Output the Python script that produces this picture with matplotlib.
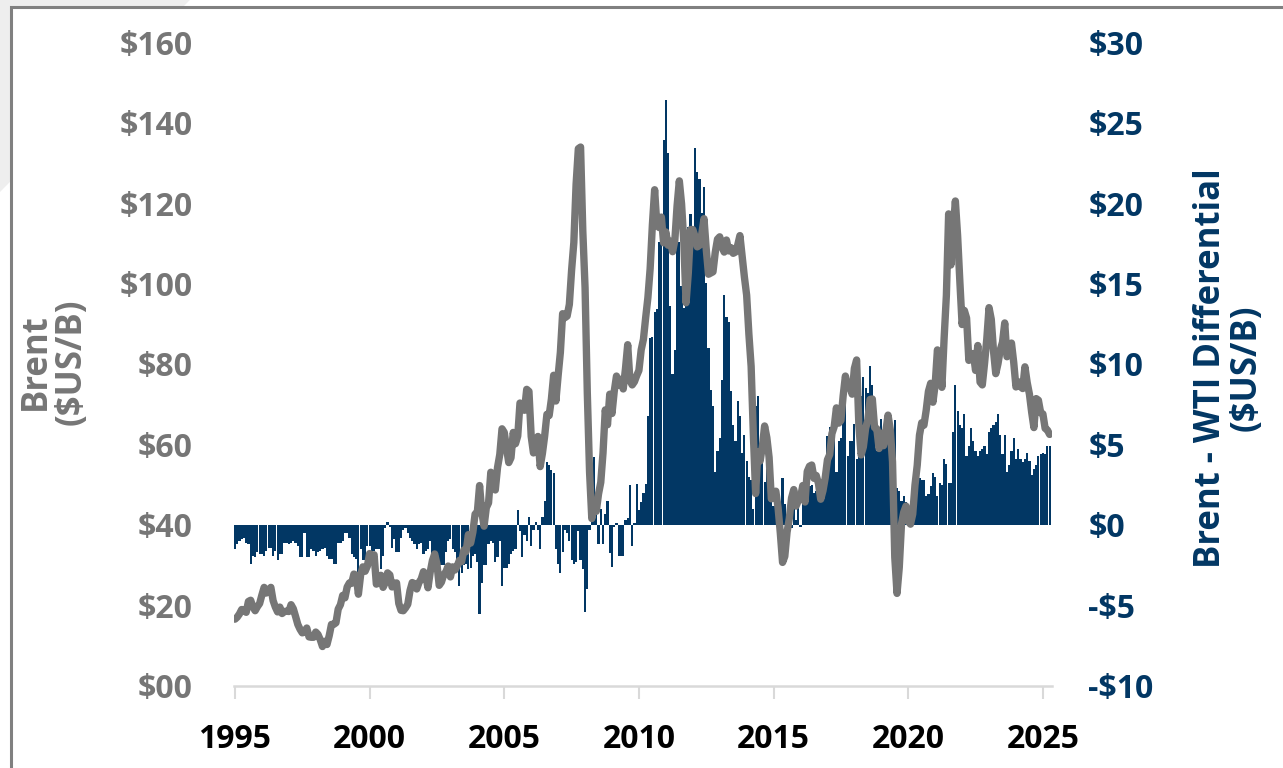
#!/usr/bin/env python3

# Brent price vs Brent-WTI differential

import matplotlib as mpl
mpl.use("Agg")

import matplotlib.pyplot as plt             # noqa
import numpy as np                          # noqa
from matplotlib.patches import Polygon, Rectangle  # noqa

# monthly series, first point sits on the 1995 tick
brent = [
  16.6, 17.1, 17.9, 19.0,
  18.9, 18.3, 21.0, 21.3, 19.6, 18.7, 19.7, 20.5, 22.6, 24.5, 23.1, 23.8,
  24.5, 21.2, 19.6, 18.4, 19.6, 18.0, 18.5, 18.6, 18.5, 20.2, 19.2, 17.3,
  15.3, 14.1, 13.2, 13.4, 14.4, 12.2, 12.1, 12.1, 13.4, 12.8, 11.5, 9.8,
  11.1, 10.3, 12.5, 15.3, 15.3, 15.7, 19.1, 20.2, 22.5, 21.9, 24.6, 25.6,
  25.5, 27.8, 27.5, 22.8, 27.6, 29.6, 28.5, 29.8, 32.9, 31.1, 32.6, 25.3,
  25.6, 27.5, 24.5, 25.7, 28.1, 27.6, 24.6, 25.5, 25.6, 20.5, 18.8, 18.7,
  19.4, 20.3, 23.7, 25.7, 25.4, 24.1, 25.7, 26.6, 28.4, 27.5, 24.4, 28.3,
  31.2, 32.8, 30.3, 25.0, 25.8, 27.6, 28.4, 29.8, 27.1, 29.6, 28.8, 29.8,
  31.2, 30.9, 33.8, 33.4, 37.6, 35.5, 38.2, 42.7, 43.2, 49.8, 43.1, 39.7,
  44.3, 45.5, 53.1, 51.9, 48.7, 54.3, 57.5, 63.9, 63.0, 59.1, 55.5, 56.7,
  63.0, 60.2, 62.1, 70.3, 69.8, 68.5, 73.7, 73.2, 62.0, 57.9, 58.8, 62.0,
  54.5, 57.8, 62.1, 67.5, 67.2, 71.3, 77.2, 70.8, 77.1, 82.9, 92.5, 91.5,
  91.9, 94.8, 103.3, 110.2, 124.6, 133.5, 133.9, 113.0, 99.0, 72.8, 53.2, 41.6,
  44.9, 43.4, 47.7, 50.6, 57.9, 68.6, 64.9, 72.5, 67.7, 73.2, 77.0, 74.7,
  76.2, 73.8, 78.8, 84.8, 75.9, 74.8, 75.6, 77.1, 78.4, 83.5, 86.1, 91.5,
  96.5, 103.7, 114.6, 123.3, 114.5, 113.9, 116.5, 110.1, 112.8, 109.5, 110.5, 107.9,
  110.7, 119.3, 125.5, 119.8, 110.3, 95.2, 102.6, 113.4, 113.4, 111.7, 109.1, 109.5,
  112.3, 116.1, 108.5, 102.3, 102.6, 102.9, 107.7, 111.0, 111.6, 109.1, 107.8, 110.8,
  108.1, 108.9, 107.5, 107.8, 109.5, 111.9, 106.8, 101.6, 97.1, 87.4, 79.4, 62.3,
  47.8, 58.1, 55.9, 59.5, 64.6, 61.7, 56.8, 46.5, 47.6, 48.4, 44.3, 38.0,
  30.7, 32.2, 38.2, 41.6, 46.7, 48.8, 44.7, 46.0, 46.8, 49.8, 45.7, 53.3,
  54.6, 54.9, 51.6, 52.3, 50.3, 46.4, 48.5, 51.7, 56.2, 57.5, 62.7, 64.4,
  69.1, 65.3, 66.0, 72.1, 77.0, 74.4, 74.3, 72.5, 78.9, 81.0, 64.8, 57.4,
  59.4, 64.0, 66.1, 71.2, 71.3, 64.2, 63.9, 59.0, 62.8, 59.7, 63.2, 67.3,
  63.7, 55.7, 32.0, 23.0, 29.4, 40.3, 43.2, 44.7, 40.9, 40.2, 42.7, 49.9,
  54.8, 62.3, 65.4, 64.8, 68.5, 73.2, 75.2, 70.5, 74.9, 83.5, 81.1, 74.2,
  86.5, 97.1, 117.3, 104.6, 113.3, 120.5, 111.9, 100.5, 89.8, 93.3, 91.4, 80.9,
  82.5, 82.6, 78.4, 84.6, 75.5, 74.8, 80.1, 86.2, 94.0, 91.1, 83.2, 77.6,
  80.1, 83.5, 85.4, 90.2, 81.8, 82.6, 85.2, 80.4, 74.3, 75.6, 74.4, 73.9,
  79.3, 75.4, 72.5, 68.0, 64.2, 71.4, 71.0, 67.9, 67.6, 64.0, 63.6, 62.5,
]

diff = [
  -1.5, -1.2, -1.0, -0.9, -0.8, -1.1, -1.2, -2.4, -1.9, -2.0, -1.7, -1.8,
  -1.8, -1.9, -1.6, -1.4, -1.4, -1.9, -1.6, -2.2, -1.8, -1.8, -1.1, -1.1,
  -1.2, -1.1, -1.0, -1.1, -1.3, -2.0, -2.0, -0.5, -2.0, -2.0, -1.5, -1.6,
  -1.9, -1.7, -1.6, -1.5, -1.4, -1.9, -2.1, -2.1, -2.4, -2.4, -1.1, -1.1,
  -1.0, -0.5, -0.5, -0.8, -1.8, -2.0, -2.1, -2.9, -1.5, -2.2, -2.2, -1.3,
  -1.3, -1.6, -1.6, -1.5, -1.5, -2.75, -1.9, -0.2, 0.2, -0.1, -1.4, -0.9,
  -1.7, -1.7, -0.8, -0.3, -0.2, -0.5, -0.8, -1.0, -1.2, -1.5, -1.2, -1.1,
  -1.8, -1.6, -1.5, -1.0, -2.1, -1.9, -1.9, -2.3, -2.5, -2.5, -1.7, -1.0,
  -0.9, -1.5, -1.7, -2.75, -3.8, -3.0, -2.5, -2.4, -2.75, -2.7, -1.9, -1.8,
  -2.3, -5.5, -3.6, -2.5, -2.5, -1.2, -1.0, -1.1, -2.3, -2.0, -1.0, -3.8,
  -2.7, -2.7, -2.4, -1.8, -1.6, -1.5, 0.9, -0.4, -2.0, -0.6, -1.0, 0.5,
  -1.3, -0.3, 0.2, -0.3, -1.5, 0.5, 1.5, 3.9, 3.7, 3.4, 3.2, -1.5,
  -2.4, -3.0, -1.7, -0.3, -0.5, -1.0, -2.2, -2.4, -2.3, -0.4, -2.2, -2.75,
  -5.4, -4.0, -0.3, 1.4, 4.2, 1.1, -1.2, 1.0, -1.2, 0.7, 1.5, -1.75,
  -2.6, -0.1, 0.1, -1.9, -1.9, -1.9, 0.3, 0.45, 2.5, -1.3, 0.1, 2.56,
  0.9, 1.4, 2.0, 2.56, 6.8, 11.6, 11.7, 13.2, 13.4, 17.6, 17.6, 23.9,
  26.4, 23.1, 13.6, 9.4, 10.9, 17.6, 17.6, 14.85, 13.5, 17.5, 18.5, 19.3,
  18.5, 23.4, 21.9, 21.5, 19.4, 21.0, 15.0, 11.0, 8.4, 7.4, 3.3, 4.6,
  5.4, 9.0, 14.3, 12.9, 12.6, 8.3, 6.2, 5.2, 7.7, 6.8, 4.5, 5.6,
  4.0, 3.0, 2.8, 1.0, 7.4, 8.0, 3.8, 4.5, 2.7, 3.5, 2.0, 1.6,
  1.2, 1.3, 1.3, 1.3, 2.9, 1.3, 0.6, -0.2, -0.2, 1.0, 0.3, 1.1,
  -0.1, 1.4, 1.9, 2.2, 2.4, 2.5, 2.0, 2.1, 2.1, 2.5, 2.8, 2.8,
  5.5, 6.1, 5.5, 5.5, 3.3, 5.2, 5.4, 6.8, 7.8, 4.3, 5.2, 5.2,
  6.3, 4.1, 5.5, 8.0, 9.2, 8.5, 8.2, 9.85, 8.7, 6.5, 4.6, 5.9,
  6.6, 5.9, 5.1, 5.1, 3.9, 3.6, 6.5, 2.3, 2.1, 1.5, 1.8, 1.4,
  1.0, 1.0, 1.0, 3.5, 3.1, 2.9, 2.8, 2.8, 1.8, 1.9, 2.4, 3.2,
  3.0, 1.8, 2.6, 2.5, 4.1, 3.8, 2.6, 2.6, 5.8, 8.7, 7.1, 6.2,
  6.0, 6.9, 4.3, 4.9, 6.0, 5.2, 4.6, 4.3, 4.6, 4.7, 4.9, 4.4,
  5.8, 6.0, 6.2, 6.4, 6.9, 5.6, 4.4, 5.6, 3.3, 3.7, 4.6, 5.4,
  4.1, 4.7, 4.1, 3.9, 4.1, 4.5, 4.0, 3.1, 3.5, 3.7, 4.3, 4.4,
  4.5, 4.4, 4.9, 4.9,
]

year_ticks = [1995, 2000, 2005, 2010, 2015, 2020, 2025]
left_ticks = [0, 20, 40, 60, 80, 100, 120, 140, 160]
left_labels = ['$00', '$20', '$40', '$60', '$80', '$100', '$120', '$140', '$160']
right_ticks = [-10, -5, 0, 5, 10, 15, 20, 25, 30]
right_labels = ['-$10', '-$5', '$0', '$5', '$10', '$15', '$20', '$25', '$30']

GREY = '#767676'
NAVY = '#023764'
FONT = 'Open Sans'

t = 1995 + np.arange(len(brent)) / 12.0

fig = plt.figure(figsize=(12.83, 7.68), dpi=100)

# slide background corner + frame (behind the axes)
fig.patches.append(Polygon([[0, 1], [0.148, 1], [0, 1 - 0.25]], closed=True,
                           transform=fig.transFigure, facecolor='#EEEEEE', edgecolor='none', zorder=-2))
fig.patches.append(Rectangle((0.0085, -0.1), 1.2, 1.091, transform=fig.transFigure,
                             facecolor='white', edgecolor='#808080', linewidth=2.2, zorder=-1))

ax = fig.add_axes([0.1825, 0.1068, 0.6377, 0.8385])
ar = ax.twinx()

ar.bar(t, diff, width=0.97 / 12, color=NAVY, linewidth=0, zorder=2)
ax.plot(t, brent, color=GREY, lw=5.3, solid_joinstyle='round', solid_capstyle='round', zorder=3)

ax.set_zorder(ar.get_zorder() + 1)
ax.patch.set_visible(False)
ar.patch.set_visible(False)

ax.set_xlim(1994.97, 2025.35)
ax.set_ylim(0, 160)
ar.set_ylim(-10, 30)

for a in (ax, ar):
  for s in a.spines.values():
    s.set_visible(False)
ax.spines['bottom'].set_visible(True)
ax.spines['bottom'].set_color('#D9D9D9')
ax.spines['bottom'].set_linewidth(1.8)

ax.set_xticks(year_ticks)
ax.set_xticklabels([str(y) for y in year_ticks], fontname=FONT, fontweight='bold', fontsize=23, color='black')
ax.tick_params(axis='x', length=9, width=1.5, color='#D9D9D9', pad=18)

ax.set_yticks(left_ticks)
ax.set_yticklabels(left_labels, fontname=FONT, fontweight='bold', fontsize=23, color=GREY)
ax.tick_params(axis='y', length=0, pad=30)

ar.set_yticks(right_ticks)
ar.set_yticklabels(right_labels, fontname=FONT, fontweight='bold', fontsize=23, color=NAVY)
ar.tick_params(axis='y', length=0, pad=26)

fig.text(0.042, 1 - 362 / 768., 'Brent\n($US/B)', rotation=90, ha='center', va='center',
         fontname=FONT, fontweight='bold', fontsize=25, color=GREY, linespacing=1.0)
fig.text(0.958, 1 - 368 / 768., 'Brent - WTI Differential\n($US/B)', rotation=90, ha='center', va='center',
         fontname=FONT, fontweight='bold', fontsize=25, color=NAVY, linespacing=1.0)

plt.savefig('out.png', dpi=100)
